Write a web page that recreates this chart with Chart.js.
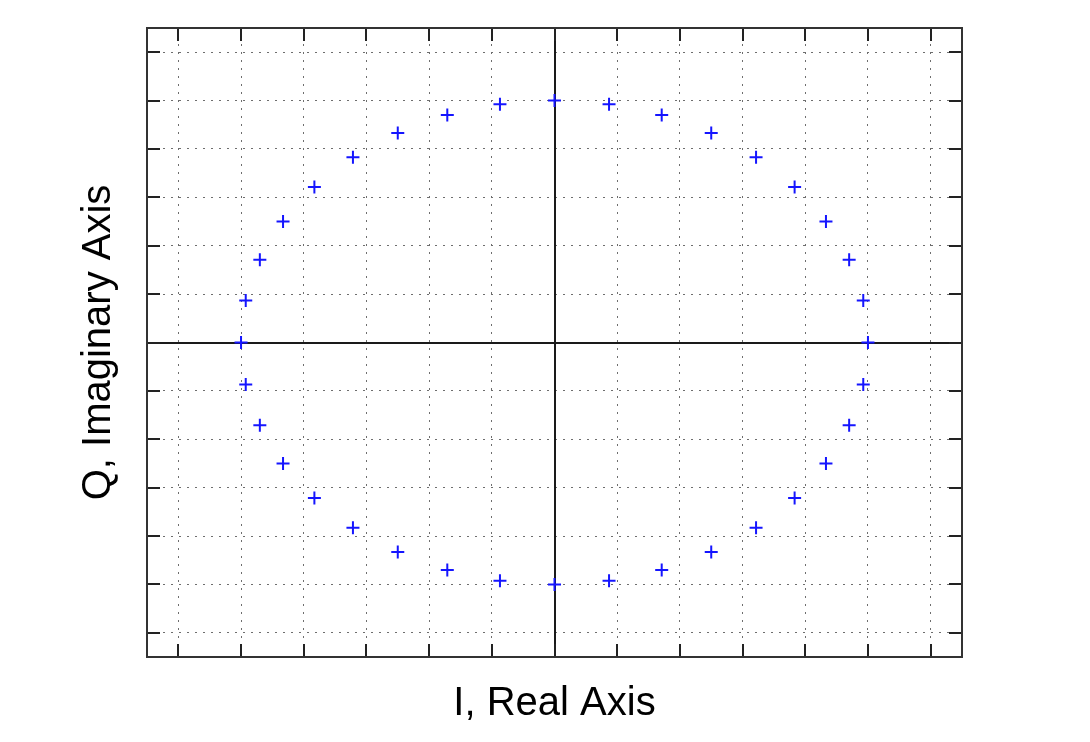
<!DOCTYPE html>
<html>
<head>
<meta charset="utf-8">
<title>I/Q constellation</title>
<script src="https://cdn.jsdelivr.net/npm/chart.js@4.4.1/dist/chart.umd.min.js"></script>
<style>
  html, body { margin: 0; padding: 0; background: #fff; }
  .wrap { width: 1090px; height: 742px; position: relative; }
</style>
</head>
<body>
<div class="wrap"><canvas id="iqChart"></canvas></div>
<script>
// symbol positions (one every 10 degrees)
const iValues = [1, 0.985, 0.94, 0.866, 0.766, 0.643, 0.5, 0.342, 0.174, 0,
  -0.174, -0.342, -0.5, -0.643, -0.766, -0.866, -0.94, -0.985, -1,
  -0.985, -0.94, -0.866, -0.766, -0.643, -0.5, -0.342, -0.174, 0,
  0.174, 0.342, 0.5, 0.643, 0.766, 0.866, 0.94, 0.985];
const qValues = [0, 0.174, 0.342, 0.5, 0.643, 0.766, 0.866, 0.94, 0.985, 1,
  0.985, 0.94, 0.866, 0.766, 0.643, 0.5, 0.342, 0.174, 0,
  -0.174, -0.342, -0.5, -0.643, -0.766, -0.866, -0.94, -0.985, -1,
  -0.985, -0.94, -0.866, -0.766, -0.643, -0.5, -0.342, -0.174];
const tickValues = [-1.2, -1, -0.8, -0.6, -0.4, -0.2, 0, 0.2, 0.4, 0.6, 0.8, 1, 1.2];
const axisMin = -1.3;
const axisMax = 1.3;

const points = iValues.map((v, i) => ({ x: v, y: qValues[i] }));

const useTicks = (scale) => { scale.ticks = tickValues.map((v) => ({ value: v })); };
const gridColor = (c) => (c.tick && c.tick.value === 0 ? 'rgba(0,0,0,0)' : '#6e6e6e');

// frame, inward tick marks and the two zero lines
const framePlugin = {
  id: 'frame',
  beforeDatasetsDraw(chart) {
    const { ctx, chartArea: a, scales: { x, y } } = chart;
    ctx.save();
    ctx.strokeStyle = '#1a1a1a';
    ctx.lineWidth = 2;
    ctx.beginPath();
    const x0 = Math.round(x.getPixelForValue(0));
    const y0 = Math.round(y.getPixelForValue(0));
    ctx.moveTo(x0, a.top);
    ctx.lineTo(x0, a.bottom);
    ctx.moveTo(a.left, y0);
    ctx.lineTo(a.right, y0);
    ctx.stroke();
    ctx.restore();
  },
  afterDraw(chart) {
    const { ctx, chartArea: a, scales: { x, y } } = chart;
    const len = 13;
    ctx.save();
    ctx.strokeStyle = '#222';
    ctx.lineWidth = 2;
    ctx.beginPath();
    tickValues.forEach((v) => {
      const px = Math.round(x.getPixelForValue(v));
      ctx.moveTo(px, a.top);
      ctx.lineTo(px, a.top + len);
      ctx.moveTo(px, a.bottom);
      ctx.lineTo(px, a.bottom - len);
      const py = Math.round(y.getPixelForValue(v));
      ctx.moveTo(a.left, py);
      ctx.lineTo(a.left + len, py);
      ctx.moveTo(a.right, py);
      ctx.lineTo(a.right - len, py);
    });
    ctx.stroke();
    ctx.strokeStyle = '#333';
    ctx.strokeRect(a.left, a.top, a.right - a.left, a.bottom - a.top);
    ctx.restore();
  }
};

const titleFont = { family: 'Liberation Sans, Arial, sans-serif', size: 40 };

new Chart(document.getElementById('iqChart'), {
  type: 'scatter',
  data: {
    datasets: [{
      label: 'Symbols',
      data: points,
      pointStyle: 'cross',
      pointRadius: 6.5,
      borderColor: '#1515ff',
      borderWidth: 2,
      showLine: false
    }]
  },
  options: {
    responsive: true,
    maintainAspectRatio: false,
    animation: false,
    layout: { padding: { left: 0, right: 128, top: 28, bottom: 0 } },
    plugins: { legend: { display: false }, tooltip: { enabled: false } },
    scales: {
      x: {
        type: 'linear',
        min: axisMin,
        max: axisMax,
        afterBuildTicks: useTicks,
        afterFit: (s) => { s.height = 85; },
        ticks: { display: false },
        grid: { color: gridColor, lineWidth: 1, drawTicks: false },
        border: { display: false, dash: [2, 6] },
        title: { display: true, text: 'I, Real Axis', color: '#000', font: titleFont, padding: { top: 0, bottom: 14 } }
      },
      y: {
        type: 'linear',
        min: axisMin,
        max: axisMax,
        afterBuildTicks: useTicks,
        afterFit: (s) => { s.width = 147; },
        ticks: { display: false },
        grid: { color: gridColor, lineWidth: 1, drawTicks: false },
        border: { display: false, dash: [2, 6] },
        title: { display: true, text: 'Q, Imaginary Axis', color: '#000', font: titleFont, padding: { top: 75, bottom: 0 } }
      }
    }
  },
  plugins: [framePlugin]
});
</script>
</body>
</html>
